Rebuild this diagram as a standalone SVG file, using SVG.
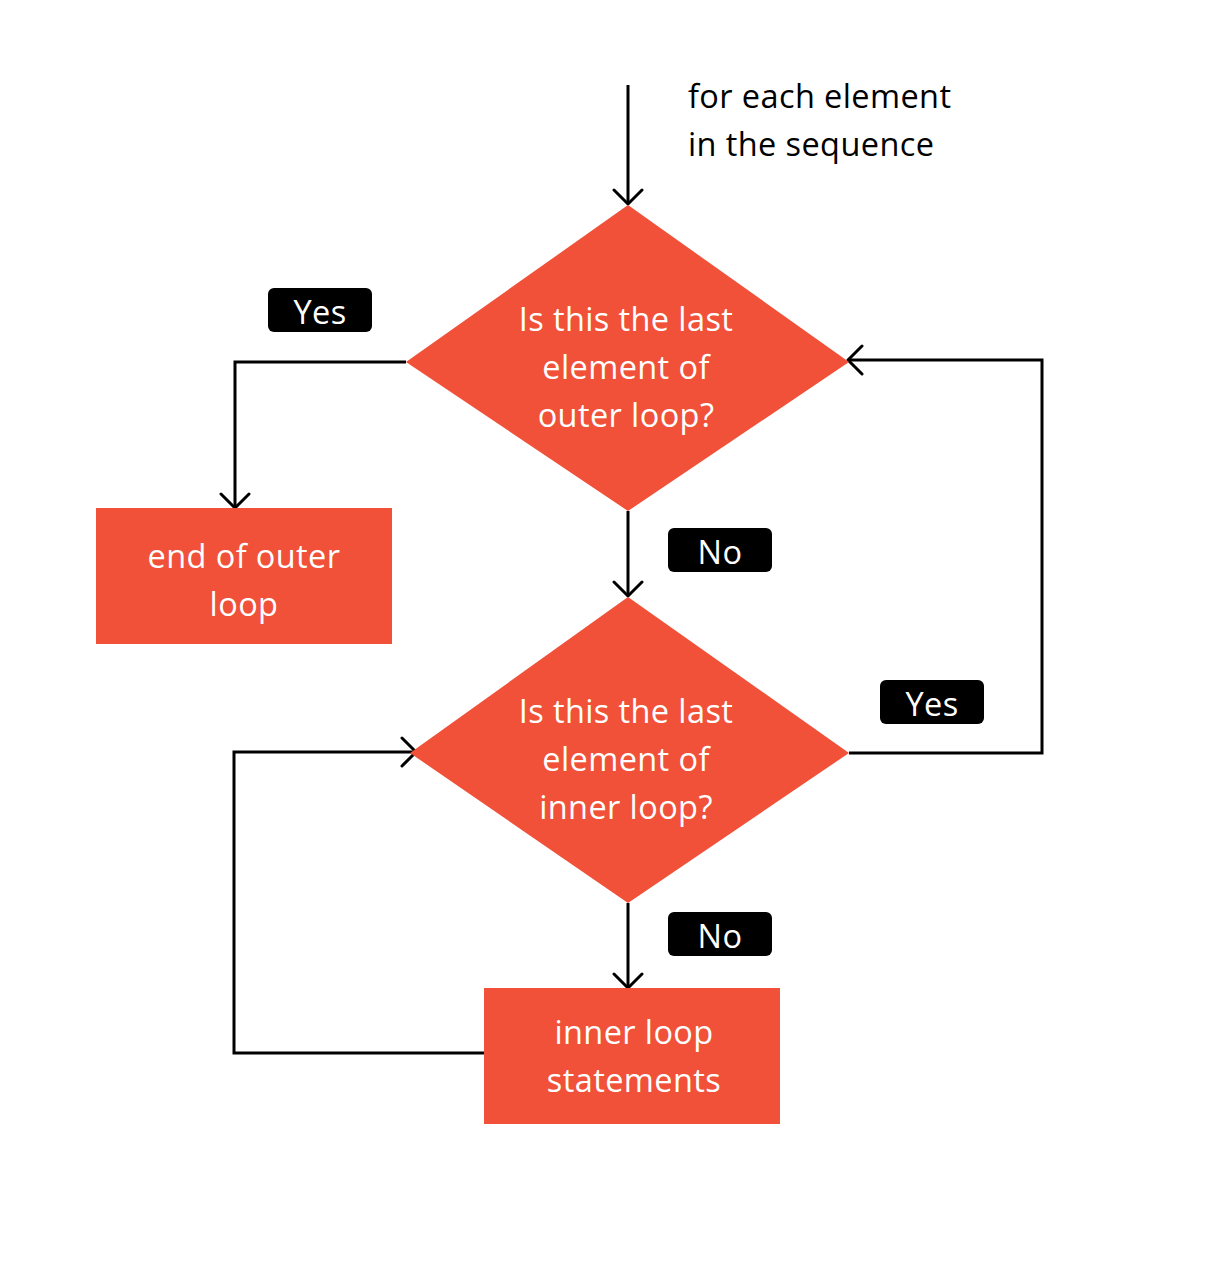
<svg xmlns="http://www.w3.org/2000/svg" width="1220" height="1268" viewBox="0 0 1220 1268">
<defs>
<marker id="arr" viewBox="0 0 20 32" refX="17" refY="16" markerWidth="20" markerHeight="32" markerUnits="userSpaceOnUse" orient="auto">
<path d="M3,2 L17,16 L3,30" fill="none" stroke="#000" stroke-width="3" stroke-linecap="round" stroke-linejoin="round"/>
</marker>
</defs>
<style>
.shape{fill:#F05138}
.t{font-family:"Open Sans","Lato","Liberation Sans",sans-serif;font-size:32.5px;letter-spacing:0.4px}
.w{fill:#fff}
.k{fill:#000}
.m{text-anchor:middle}
.lbl{fill:#000}
.c{fill:none;stroke:#000;stroke-width:3}
</style>
<rect width="1220" height="1268" fill="#fff"/>
<g id="connectors">
<path class="c" d="M628,85 V204" marker-end="url(#arr)"/>
<path class="c" d="M406,362 H235 V508" marker-end="url(#arr)"/>
<path class="c" d="M628,511 V596" marker-end="url(#arr)"/>
<path class="c" d="M849,753 H1042 V360 H848" marker-end="url(#arr)"/>
<path class="c" d="M628,903 V988" marker-end="url(#arr)"/>
<path class="c" d="M484,1053 H234 V752 H416" marker-end="url(#arr)"/>
</g>
<g id="start-label">
<text class="t k" x="688" y="108">for each element</text>
<text class="t k" x="688" y="156">in the sequence</text>
</g>
<g id="outer-decision">
<polygon class="shape" points="628,205 849,362 628,511 406,362"/>
<text class="t w m" x="626" y="331">Is this the last</text>
<text class="t w m" x="626" y="379">element of</text>
<text class="t w m" x="626" y="427">outer loop?</text>
</g>
<g id="end-outer">
<rect class="shape" x="96" y="508" width="296" height="136"/>
<text class="t w m" x="244" y="568">end of outer</text>
<text class="t w m" x="244" y="616">loop</text>
</g>
<g id="inner-decision">
<polygon class="shape" points="628,597 849,753 628,903 410,753"/>
<text class="t w m" x="626" y="723">Is this the last</text>
<text class="t w m" x="626" y="771">element of</text>
<text class="t w m" x="626" y="819">inner loop?</text>
</g>
<g id="inner-statements">
<rect class="shape" x="484" y="988" width="296" height="136"/>
<text class="t w m" x="634" y="1044">inner loop</text>
<text class="t w m" x="634" y="1092">statements</text>
</g>
<g id="label-yes-1">
<rect class="lbl" x="268" y="288" width="104" height="44" rx="6"/>
<text class="t w m" x="320" y="324">Yes</text>
</g>
<g id="label-no-1">
<rect class="lbl" x="668" y="528" width="104" height="44" rx="6"/>
<text class="t w m" x="720" y="564">No</text>
</g>
<g id="label-yes-2">
<rect class="lbl" x="880" y="680" width="104" height="44" rx="6"/>
<text class="t w m" x="932" y="716">Yes</text>
</g>
<g id="label-no-2">
<rect class="lbl" x="668" y="912" width="104" height="44" rx="6"/>
<text class="t w m" x="720" y="948">No</text>
</g>
</svg>
